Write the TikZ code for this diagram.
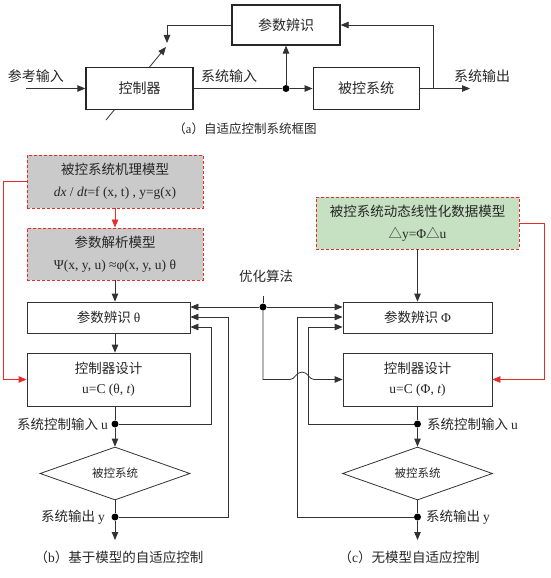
\documentclass[tikz,border=0pt]{standalone}
\usepackage{fontspec}
\setmainfont{Noto Sans CJK SC}
\newfontfamily\lat{Liberation Serif}
\usetikzlibrary{arrows.meta,shapes.geometric,backgrounds}

\definecolor{mechgray}{RGB}{202,202,202}
\definecolor{modelgreen}{RGB}{197,225,193}
\definecolor{linkred}{RGB}{228,44,40}
\definecolor{wiregray}{RGB}{50,50,50}

\begin{document}
\begin{tikzpicture}[
    x=1pt, y=-1pt,
    font=\fontsize{13.5pt}{16pt}\selectfont,
    text=black!85,
    % Node styles
    blockA/.style={draw=black!85, line width=1.3pt, fill=white, inner sep=0pt, minimum width=107pt, minimum height=42pt, font=\fontsize{14pt}{16pt}\selectfont},
    model/.style={draw=linkred, dash pattern=on 3pt off 2pt, line width=0.9pt, fill=mechgray, inner sep=0pt, align=center, font=\fontsize{13.5pt}{22pt}\selectfont},
    stage/.style={draw=wiregray, line width=0.8pt, fill=white, inner sep=0pt, align=center, font=\fontsize{13.5pt}{20pt}\selectfont},
    plant/.style={diamond, aspect=2.8, draw=wiregray, line width=0.8pt, inner sep=0pt, minimum width=150pt, minimum height=53pt, font=\fontsize{11.5pt}{13pt}\selectfont},
    dot/.style={circle, fill=black, inner sep=0pt, minimum size=7pt},
    lbl/.style={inner sep=0pt},
    caption/.style={inner sep=0pt, font=\fontsize{13.5pt}{15pt}\selectfont},
    wire/.style={draw=wiregray, line width=0.8pt},
    arrow/.style={wire, -{Triangle[length=8pt,width=6.5pt]}},
    redarrow/.style={draw=linkred, line width=0.8pt, -{Triangle[length=8pt,width=6.5pt]}},
]
    \useasboundingbox (0,0) rectangle (551,578);

    % (a) adaptive control block diagram
    \node[blockA] (ctla) at (139.5,88.5) {控制器};
    \node[blockA, minimum width=108pt, minimum height=40pt] (pida) at (286,25) {参数辨识};
    \node[blockA, line width=0.9pt, minimum width=106pt] (planta) at (366,88.5) {被控系统};
    \node[dot] (dota) at (286,88.5) {};
    \coordinate (refin) at (26,88.5);
    \coordinate (outa) at (470,88.5);
    \coordinate (tapa) at (433,88.5);
    \coordinate (adja) at (167,43);
    \coordinate (diagA) at (106,120);
    \coordinate (diagB) at (166,47);

    \node[lbl, font=\fontsize{14pt}{16pt}\selectfont] (reflbl) at (36,76) {参考输入};
    \node[lbl, font=\fontsize{14pt}{16pt}\selectfont] (inlbl) at (229,76) {系统输入};
    \node[lbl, font=\fontsize{14pt}{16pt}\selectfont] (outlbl) at (482,76) {系统输出};
    \node[caption, font=\fontsize{12.5pt}{14pt}\selectfont] (capa) at (245,129) {（{\lat a}）自适应控制系统框图};

    \draw[arrow] (refin) -- (ctla);
    \draw[wire] (ctla) -- (dota);
    \draw[arrow] (dota) -- (planta);
    \draw[arrow] (dota) -- (pida);
    \draw[arrow] (planta) -- (outa);
    \draw[arrow] (tapa) |- (pida.east);
    \draw[arrow] (pida.west) -| (adja);
    \begin{scope}[on background layer]
        \draw[arrow] (diagA) -- (diagB);
    \end{scope}

    % (b) model based adaptive control
    \node[model, minimum width=176pt, minimum height=53pt] (mech) at (115,181.5)
        {被控系统机理模型\\{\lat{\itshape dx} / {\itshape dt}=f (x, t) , y=g(x)}};
    \node[model, minimum width=176pt, minimum height=52pt] (ana) at (115,254)
        {参数解析模型\\{\lat Ψ(x, y, u) ≈φ(x, y, u) θ}};
    \node[stage, minimum width=163pt, minimum height=31pt] (idth) at (108.5,317.5) {参数辨识 {\lat θ}};
    \node[stage, minimum width=163pt, minimum height=53pt] (ctlth) at (108.5,379.5)
        {控制器设计\\{\lat u=C (θ, {\itshape t})}};
    \node[plant] (diab) at (115,473.5) {被控系统};
    \node[dot] (udotb) at (115,424) {};
    \node[dot] (ydotb) at (115,517) {};
    \coordinate (endb) at (115,540);
    \coordinate (redb) at (3,379.5);
    \coordinate (fbub) at (211,327);
    \coordinate (fbyb) at (228,317);

    \node[lbl, anchor=east] (ulblb) at (108,424) {系统控制输入 {\lat u}};
    \node[lbl, anchor=east] (ylblb) at (105,517) {系统输出 {\lat y}};
    \node[caption] (capb) at (119,557) {（{\lat b}）基于模型的自适应控制};

    \draw[redarrow] (mech) -- (ana);
    \draw[redarrow] (mech.west) -| (redb) -- (ctlth.west);
    \draw[arrow] (ana) -- (ana.south |- idth.north);
    \draw[arrow] (ana.south |- idth.south) -- (ana.south |- ctlth.north);
    \draw[wire] (ana.south |- ctlth.south) -- (udotb);
    \draw[arrow] (udotb) -- (diab);
    \draw[wire] (diab) -- (ydotb);
    \draw[arrow] (ydotb) -- (endb);
    \draw[arrow] (udotb) -| (fbub) -- (fbub -| idth.east);
    \draw[arrow] (ydotb) -| (fbyb) -- (fbyb -| idth.east);

    % (c) model free adaptive control
    \node[model, fill=modelgreen, minimum width=203pt, minimum height=52pt] (dlin) at (417.5,223)
        {被控系统动态线性化数据模型\\△{\lat y=Φ}△{\lat u}};
    \node[stage, minimum width=149pt, minimum height=31pt] (idphi) at (417.5,317.5) {参数辨识 {\lat Φ}};
    \node[stage, minimum width=149pt, minimum height=53pt] (ctlphi) at (417.5,379.5)
        {控制器设计\\{\lat u=C (Φ, {\itshape t})}};
    \node[plant] (diac) at (417.5,473.5) {被控系统};
    \node[dot] (udotc) at (417.5,424) {};
    \node[dot] (ydotc) at (417.5,517) {};
    \coordinate (endc) at (417.5,540);
    \coordinate (redc) at (544,379.5);
    \coordinate (fbuc) at (308,327);
    \coordinate (fbyc) at (297,317);

    \node[lbl, anchor=west] (ulblc) at (427,424) {系统控制输入 {\lat u}};
    \node[lbl, anchor=west] (ylblc) at (426,517) {系统输出 {\lat y}};
    \node[caption] (capc) at (409,557) {（{\lat c}）无模型自适应控制};

    \draw[arrow] (dlin) -- (idphi);
    \draw[redarrow] (dlin.east) -| (redc) -- (ctlphi.east);
    \draw[wire] (ctlphi) -- (udotc);
    \draw[arrow] (udotc) -- (diac);
    \draw[wire] (diac) -- (ydotc);
    \draw[arrow] (ydotc) -- (endc);
    \draw[arrow] (udotc) -| (fbuc) -- (fbuc -| idphi.west);
    \draw[arrow] (ydotc) -| (fbyc) -- (fbyc -| idphi.west);

    % optimisation algorithm feeding both sides
    \node[lbl] (optlbl) at (266,276) {优化算法};
    \node[dot] (opt) at (263,307) {};
    \coordinate (opttop) at (263,296);
    \coordinate (hop) at (263,379.5);

    \draw[wire] (opttop) -- (opt);
    \draw[arrow] (opt) -- (opt -| idth.east);
    \draw[arrow] (opt) -- (opt -| idphi.west);
    \draw[arrow] (opt) -- (hop) -- (290,379.5)
        .. controls (295,379.5) and (296,372) .. (302,372)
        .. controls (308,372) and (309,379.5) .. (314,379.5) -- (hop -| ctlphi.west);

\end{tikzpicture}
\end{document}
